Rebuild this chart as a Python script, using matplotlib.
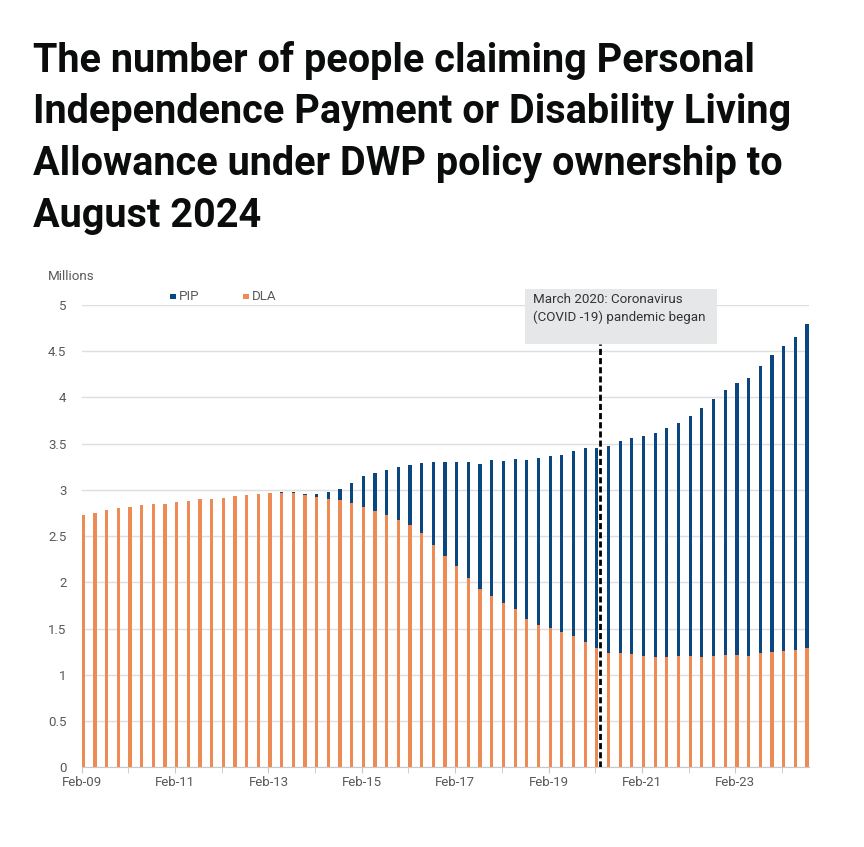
import numpy as np
import pandas as pd
import matplotlib
matplotlib.use("Agg")
import matplotlib.pyplot as plt
from matplotlib.patches import Rectangle

# quarterly caseload, millions (Feb-09 .. Aug-24)
quarters = pd.date_range("2009-02-01", "2024-08-01", freq="3MS")
dla = [2.728, 2.753, 2.782, 2.800, 2.818, 2.836, 2.851, 2.851, 2.872, 2.880,
       2.898, 2.898, 2.916, 2.934, 2.945, 2.952, 2.970, 2.970, 2.965, 2.941,
       2.923, 2.905, 2.887, 2.862, 2.815, 2.772, 2.725, 2.680, 2.617, 2.534,
       2.407, 2.288, 2.177, 2.050, 1.925, 1.856, 1.780, 1.708, 1.604, 1.539,
       1.503, 1.467, 1.423, 1.352, 1.287, 1.233, 1.233, 1.225, 1.204, 1.196,
       1.196, 1.204, 1.204, 1.196, 1.204, 1.214, 1.214, 1.204, 1.233, 1.250,
       1.261, 1.268, 1.287]
pip = [0, 0, 0, 0, 0, 0, 0, 0, 0, 0,
       0, 0, 0, 0, 0, 0, 0, 0.007, 0.010, 0.015,
       0.033, 0.068, 0.121, 0.216, 0.335, 0.416, 0.490, 0.570, 0.652, 0.762,
       0.891, 1.017, 1.128, 1.255, 1.351, 1.464, 1.532, 1.622, 1.716, 1.802,
       1.863, 1.910, 1.997, 2.104, 2.162, 2.245, 2.296, 2.339, 2.378, 2.422,
       2.477, 2.523, 2.595, 2.686, 2.779, 2.866, 2.945, 3.009, 3.110, 3.209,
       3.299, 3.389, 3.507]
tick_labels = ["Feb-09", "Feb-11", "Feb-13", "Feb-15", "Feb-17", "Feb-19", "Feb-21", "Feb-23"]
covid_pos = 44.45   # March 2020, in quarters from Feb-09

BLUE = "#0a4781"
ORANGE = "#ee8b55"
GREY_TXT = "#595959"
GRID = "#dedede"

plt.rcParams["font.family"] = ["Roboto", "DejaVu Sans"]

W, H = 864, 847
fig = plt.figure(figsize=(W / 100, H / 100), dpi=100)
ax = fig.add_axes([81.7 / W, 1 - 767.3 / H, (809 - 81.7) / W, (767.3 - 305) / H])

x = np.arange(len(quarters))
bw = 0.28
ax.bar(x, dla, width=bw, align="edge", color=ORANGE, zorder=2)
ax.bar(x, pip, width=bw, align="edge", bottom=dla, color=BLUE, zorder=2)

ax.set_xlim(0, 62.32)
ax.set_ylim(0, 5)
ax.set_yticks(np.arange(0, 5.01, 0.5))
ax.set_yticklabels(["0", "0.5", "1", "1.5", "2", "2.5", "3", "3.5", "4", "4.5", "5"])
ax.yaxis.grid(True, color=GRID, linewidth=1, zorder=0)
ax.tick_params(axis="y", length=0, pad=11, labelsize=9.5, labelcolor=GREY_TXT)

ax.set_xticks(np.arange(0, 57, 8))
ax.set_xticklabels(tick_labels)
ax.set_xticks(np.arange(0, 61, 4), minor=True)
ax.tick_params(axis="x", which="both", length=4, color="#c8c8c8", labelsize=9.5,
               labelcolor=GREY_TXT, pad=2)

for s in ["top", "right", "left"]:
    ax.spines[s].set_visible(False)
ax.spines["bottom"].set_color("#c8c8c8")

# covid marker
box_bottom = (767.3 - 344) / 92.47
ax.vlines(covid_pos, 0, box_bottom, colors="black", linewidth=2,
          linestyles=(0, (2.2, 1.1)), zorder=4)
fig.patches.append(Rectangle((525 / W, 1 - 344.5 / H), (717 - 525) / W, (344.5 - 289) / H,
                             transform=fig.transFigure, facecolor="#e6e7e8",
                             edgecolor="none", zorder=3))
fig.text(533 / W, 1 - 299.5 / H, "March 2020: Coronavirus", fontsize=9.6,
         color="#333333", va="center", zorder=5)
fig.text(533 / W, 1 - 317.5 / H, "(COVID -19) pandemic began", fontsize=9.6,
         color="#333333", va="center", zorder=5)

# axis title and legend
fig.text(48 / W, 1 - 277 / H, "Millions", fontsize=9.6, color=GREY_TXT, va="center")
for lx, lab, col in [(170, "PIP", BLUE), (243.3, "DLA", ORANGE)]:
    fig.patches.append(Rectangle((lx / W, 1 - 299.5 / H), 5.5 / W, 5.5 / H,
                                 transform=fig.transFigure, facecolor=col, edgecolor="none"))
    fig.text((lx + 8.5) / W, 1 - 296.7 / H, lab, fontsize=9.6, color=GREY_TXT, va="center")

# title
title_lines = ["The number of people claiming Personal",
               "Independence Payment or Disability Living",
               "Allowance under DWP policy ownership to",
               "August 2024"]
for k, line in enumerate(title_lines):
    fig.text(33 / W, 1 - (71.7 + 51.7 * k) / H, line, fontsize=28.5, fontweight="bold",
             color="#0b0c0c", va="baseline", ha="left")

fig.savefig("out.png", dpi=100, facecolor="white")
